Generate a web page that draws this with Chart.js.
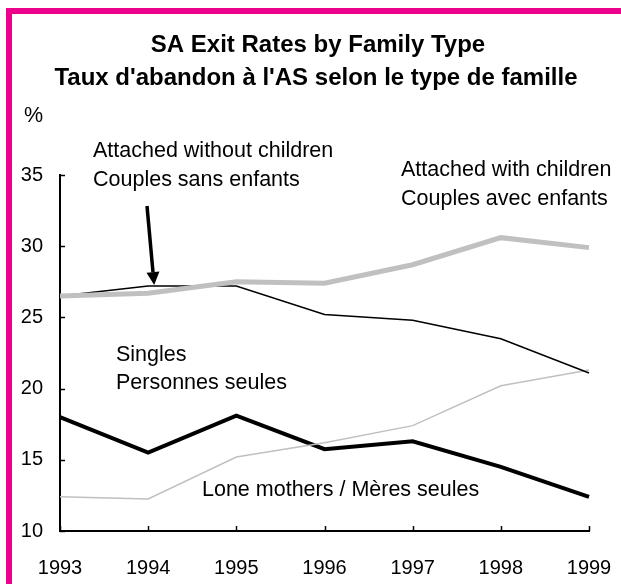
<!DOCTYPE html>
<html>
<head>
<meta charset="utf-8">
<script src="https://cdn.jsdelivr.net/npm/chart.js@4/dist/chart.umd.min.js"></script>
<style>
  html, body { margin: 0; padding: 0; background: #fff; }
  #wrap { position: relative; width: 621px; height: 584px; overflow: hidden; }
  #frame {
    position: absolute; left: 6px; top: 8px; right: 0; bottom: 0;
    border-left: 6px solid #ec008c; border-top: 6px solid #ec008c;
  }
  canvas { position: absolute; left: 0; top: 0; }
</style>
</head>
<body>
<div id="wrap">
  <div id="frame"></div>
  <canvas id="chart" width="621" height="584"></canvas>
</div>
<script>
// ----------------------------------------------------
//                DATA
// ----------------------------------------------------
const years = ["1993", "1994", "1995", "1996", "1997", "1998", "1999"];

const withChildren    = [26.5, 26.7, 27.5, 27.4, 28.7, 30.6, 29.9];
const withoutChildren = [26.5, 27.2, 27.2, 25.2, 24.8, 23.5, 21.1];
const singles         = [12.4, 12.25, 15.2, 16.2, 17.4, 20.2, 21.3];
const loneMothers     = [18.0, 15.5, 18.1, 15.75, 16.3, 14.5, 12.4];

const yTicks = [10, 15, 20, 25, 30, 35];

const titleLines = [
  "SA Exit Rates by Family Type",
  "Taux d'abandon à l'AS selon le type de famille"
];

const FONT = "Arial, 'Liberation Sans', sans-serif";

// ----------------------------------------------------
//          title, annotations + inner ticks
// ----------------------------------------------------
const extras = {
  id: "extras",
  afterDraw(chart) {
    const ctx = chart.ctx;
    const x = chart.scales.x, y = chart.scales.y;
    const area = chart.chartArea;

    ctx.save();
    ctx.strokeStyle = "#000";
    ctx.lineWidth = 1.5;
    // ticks pointing inwards
    yTicks.forEach(v => {
      const py = Math.round(y.getPixelForValue(v)) + 0.5;
      ctx.beginPath();
      ctx.moveTo(area.left, py);
      ctx.lineTo(area.left + 5, py);
      ctx.stroke();
    });
    years.forEach((yr, i) => {
      const px = Math.round(x.getPixelForValue(i)) + 0.5;
      ctx.beginPath();
      ctx.moveTo(px, area.bottom);
      ctx.lineTo(px, area.bottom - 5);
      ctx.stroke();
    });

    // title
    ctx.fillStyle = "#000";
    ctx.textBaseline = "middle";
    ctx.textAlign = "center";
    ctx.font = "bold 24px " + FONT;
    ctx.fillText(titleLines[0], 318, 45);
    ctx.fillText(titleLines[1], 316, 78);

    // text labels
    ctx.font = "21.5px " + FONT;
    ctx.textAlign = "left";
    ctx.fillText("%", 24, 116);
    ctx.fillText("Attached without children", 93, 151);
    ctx.fillText("Couples sans enfants", 93, 180);
    ctx.fillText("Attached with children", 401, 170);
    ctx.fillText("Couples avec enfants", 401, 199);
    ctx.fillText("Singles", 116, 355);
    ctx.fillText("Personnes seules", 116, 383);
    ctx.fillText("Lone mothers / Mères seules", 202, 490);

    // arrow to 1994 couples-without-children point
    const tipX = x.getPixelForValue(1) + 6;
    const tipY = y.getPixelForValue(withoutChildren[1]) - 1;
    const startX = 147, startY = 206;
    const ang = Math.atan2(tipY - startY, tipX - startX);
    const headLen = 13, headW = 6.5;
    const baseX = tipX - headLen * Math.cos(ang);
    const baseY = tipY - headLen * Math.sin(ang);
    ctx.lineWidth = 3.5;
    ctx.beginPath();
    ctx.moveTo(startX, startY);
    ctx.lineTo(baseX, baseY);
    ctx.stroke();
    ctx.beginPath();
    ctx.moveTo(tipX, tipY);
    ctx.lineTo(baseX + headW * Math.sin(ang), baseY - headW * Math.cos(ang));
    ctx.lineTo(baseX - headW * Math.sin(ang), baseY + headW * Math.cos(ang));
    ctx.closePath();
    ctx.fill();
    ctx.restore();
  }
};

// ----------------------------------------------------
//              CHART
// ----------------------------------------------------
new Chart(document.getElementById("chart"), {
  type: "line",
  data: {
    labels: years,
    datasets: [
      { label: "Attached with children", data: withChildren,
        borderColor: "#c0c0c0", borderWidth: 5 },
      { label: "Attached without children", data: withoutChildren,
        borderColor: "#000", borderWidth: 1.5 },
      { label: "Singles", data: singles,
        borderColor: "#c0c0c0", borderWidth: 1.5 },
      { label: "Lone mothers", data: loneMothers,
        borderColor: "#000", borderWidth: 4 }
    ]
  },
  options: {
    responsive: false,
    animation: false,
    elements: { point: { radius: 0 }, line: { tension: 0, borderJoinStyle: "miter" } },
    layout: { padding: { left: 0, right: 32, top: 175, bottom: 0 } },
    plugins: {
      legend: { display: false },
      tooltip: { enabled: false },
      title: { display: false }
    },
    scales: {
      x: {
        offset: false,
        grid: { display: false, drawTicks: false },
        border: { display: true, color: "#000", width: 2 },
        ticks: { color: "#000", font: { family: FONT, size: 20 }, padding: 25, maxRotation: 0 },
        afterFit: s => { s.height = 53; s.paddingLeft = 0; s.paddingRight = 0; }
      },
      y: {
        min: 10, max: 35,
        afterBuildTicks: s => { s.ticks = yTicks.map(v => ({ value: v })); },
        grid: { display: false, drawTicks: false },
        border: { display: true, color: "#000", width: 2 },
        ticks: { color: "#000", font: { family: FONT, size: 20 }, padding: 17 },
        afterFit: s => { s.width = 60; s.paddingTop = 0; s.paddingBottom = 0; }
      }
    }
  },
  plugins: [extras]
});
</script>
</body>
</html>
